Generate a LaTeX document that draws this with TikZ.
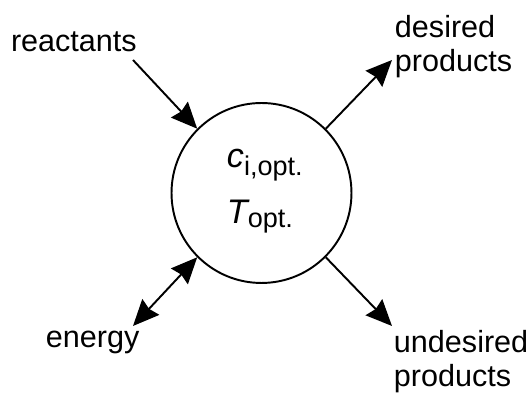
\documentclass[tikz,border=0pt]{standalone}
\usepackage{fontspec}
\setmainfont{Liberation Sans}
\usetikzlibrary{arrows.meta}
\tikzset{%
    reactor/.style={shape=circle,draw,line width=1.1pt,minimum size=3.6cm,inner sep=0pt},
    stream/.style={inner sep=0pt,outer sep=0pt,align=left,font=\fontsize{17.4}{19.9}\selectfont},
    state/.style={inner sep=0pt,outer sep=0pt,font=\fontsize{19.4}{22}\selectfont},
    flow/.style={-{Stealth[length=0.52cm,width=0.46cm,inset=0.05cm]},line width=1.1pt},
    exchange/.style={{Stealth[length=0.52cm,width=0.46cm,inset=0.05cm]}-{Stealth[length=0.52cm,width=0.46cm,inset=0.05cm]},line width=1.1pt},
}
\newcommand{\subopt}[2]{\raisebox{-#1}{\upshape\fontsize{15.4}{17}\selectfont #2}}

\begin{document}
\begin{tikzpicture}[x=0.02cm,y=-0.02cm]
        \useasboundingbox (0,0) rectangle (529,394);

        \node[reactor] (reactor) at (261.5,193) {};
        \node[state,anchor=base west] (conc) at (227,168) {\itshape c\subopt{0.16cm}{i,opt.}};
        \node[state,anchor=base west] (temp) at (227,224) {\itshape T\subopt{0.08cm}{opt.}};

        \node[stream,anchor=base west] (reactants) at (11,52) {reactants};
        \node[stream,anchor=base west] (desired) at (395,72) {desired\\products};
        \node[stream,anchor=base west] (undesired) at (394,387) {undesired\\products};
        \node[stream,anchor=base west] (energy) at (46,348) {energy};

        \coordinate (rin) at (133,60);
        \coordinate (dout) at (392,60);
        \coordinate (uout) at (392,326);
        \coordinate (eout) at (133,326);

        \draw[flow] (rin) -- (reactor.135);
        \draw[flow] (reactor.45) -- (dout);
        \draw[flow] (reactor.-45) -- (uout);
        \draw[exchange] (eout) -- (reactor.225);
      \end{tikzpicture}
\end{document}
